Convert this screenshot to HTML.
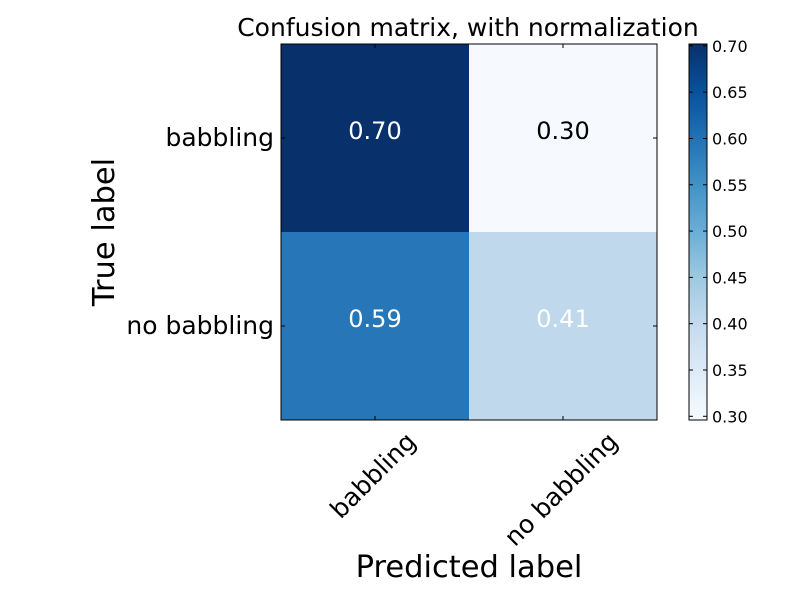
<!DOCTYPE html>
<html><head><meta charset="utf-8"><style>
html,body{margin:0;padding:0;background:#fff;}
svg{display:block;font-family:"DejaVu Sans","Liberation Sans",sans-serif;}
</style></head><body>
<svg id="chart" width="800" height="600" viewBox="0 0 800 600">
<defs><linearGradient id="cbg" x1="0" y1="1" x2="0" y2="0"></linearGradient></defs>
<rect width="800" height="600" fill="#fff"/>
<text x="468" y="36" font-size="25" text-anchor="middle">Confusion matrix, with normalization</text>
<g id="cells"></g>
<g id="axes"></g>
<text x="0" y="0" font-size="30.5" text-anchor="middle" transform="translate(114,232) rotate(-90)">True label</text>
<text x="469" y="577" font-size="30.5" text-anchor="middle">Predicted label</text>
</svg>
<script>
const classes = ["babbling", "no babbling"];
const row0 = [0.702, 0.298];
const row1 = [0.593, 0.407];
const cbTicks = [0.30,0.35,0.40,0.45,0.50,0.55,0.60,0.65,0.70];
const matrix=[row0,row1];
const NS="http://www.w3.org/2000/svg";
const svg=document.getElementById('chart');
const stops=["#f7fbff","#deebf7","#c6dbef","#9ecae1","#6baed6","#4292c6","#2171b5","#08519c","#08306b"];
function hex(h){return [1,3,5].map(i=>parseInt(h.substr(i,2),16));}
function cmap(t){t=Math.max(0,Math.min(1,t));const p=t*(stops.length-1);const i=Math.min(Math.floor(p),stops.length-2);const f=p-i;const a=hex(stops[i]),b=hex(stops[i+1]);return `rgb(${a.map((v,k)=>Math.round(v+(b[k]-v)*f)).join(',')})`;}
const all=matrix.flat();const vmin=Math.min(...all)-0.002,vmax=Math.max(...all);
const L=281,T=44,S=376,n=classes.length,cs=S/n;
function mk(tag,attrs,parent){const e=document.createElementNS(NS,tag);for(const k in attrs)e.setAttribute(k,attrs[k]);(parent||svg).appendChild(e);return e;}
const cells=document.getElementById('cells');
const thresh=vmax/2;
matrix.forEach((r,i)=>r.forEach((v,j)=>{
 const rc=mk('rect',{x:L+j*cs,y:T+i*cs,width:cs,height:cs,fill:cmap((v-vmin)/(vmax-vmin))},cells);
 
 
 const t=mk('text',{x:L+(j+0.5)*cs,y:T+(i+0.5)*cs+1,'font-size':24,'text-anchor':'middle',fill:v>thresh?'#fff':'#000'},cells);
 t.textContent=v.toFixed(2);
 
 
}));
const ax=document.getElementById('axes');
const fr=mk('rect',{x:L,y:T,width:S,height:S,fill:'none',stroke:'#000','stroke-width':1},ax);


classes.forEach((c,k)=>{
 const p=L+(k+0.5)*cs, py=T+(k+0.5)*cs;
 mk('line',{x1:p,x2:p,y1:T+S,y2:T+S-4,stroke:'#000'},ax);
 mk('line',{x1:p,x2:p,y1:T,y2:T+4,stroke:'#000'},ax);
 mk('line',{x1:L,x2:L+4,y1:py,y2:py,stroke:'#000'},ax);
 mk('line',{x1:L+S,x2:L+S-4,y1:py,y2:py,stroke:'#000'},ax);
 const yl=mk('text',{x:L-7,y:py+8,'font-size':25,'text-anchor':'end'},ax);
 yl.textContent=c;
 
 
 const xl=mk('text',{x:0,y:0,'font-size':25,'text-anchor':'middle','dominant-baseline':'central'},ax);
 xl.textContent=c;
 
 
 const w=xl.getComputedTextLength(), h=20;
 const cy=T+S+10+(w+h)/(2*Math.SQRT2);
 xl.setAttribute('transform',`translate(${p-2},${cy}) rotate(-45)`);
});
const CX=689,CW=18;
const g=document.getElementById('cbg');
stops.forEach((s,i)=>mk('stop',{offset:(i/(stops.length-1)),'stop-color':s},g));
const cb=mk('rect',{x:CX,y:T,width:CW,height:S,fill:'url(#cbg)',stroke:'#000','stroke-width':1});


cbTicks.forEach(v=>{
 const y=T+S-(v-vmin)/(vmax-vmin)*S;
 mk('line',{x1:CX+CW,x2:CX+CW-4,y1:y,y2:y,stroke:'#000'});
 mk('line',{x1:CX,x2:CX+4,y1:y,y2:y,stroke:'#000'});
 const t=mk('text',{x:CX+CW+5,y:y+6,'font-size':16});
 t.textContent=v.toFixed(2);
 
 
});
</script>
</body></html>
